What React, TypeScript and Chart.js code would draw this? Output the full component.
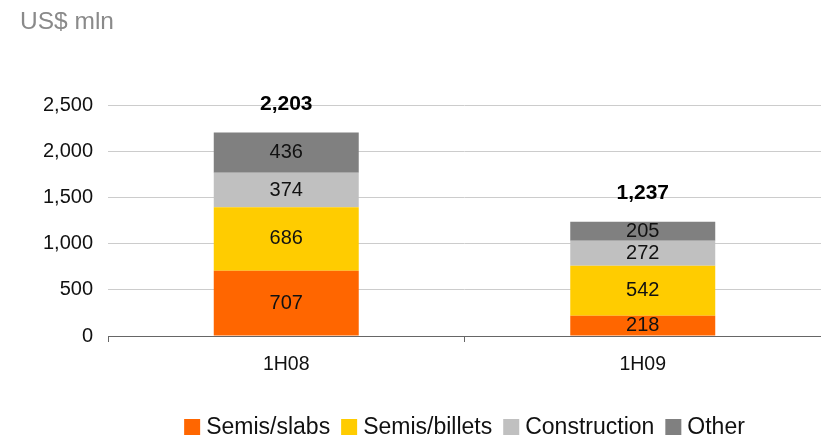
import React, { useEffect, useRef } from "react";
import { Chart, registerables } from "chart.js";

Chart.register(...registerables);

const categories = ["1H08", "1H09"];
const seriesNames = ["Semis/slabs", "Semis/billets", "Construction", "Other"];
const slabs = [707, 218];
const billets = [686, 542];
const construction = [374, 272];
const other = [436, 205];
const totals = [2203, 1237];
const yTicks = [0, 500, 1000, 1500, 2000, 2500];
const colors = ["#FF6600", "#FFCC00", "#C0C0C0", "#808080"];
const unitLabel = "US$ mln";

const FONT = '"Liberation Sans", Arial, sans-serif';
const fmt = (v: number) => v.toLocaleString("en-US");

const labelsPlugin = {
  id: "customLabels",
  afterDatasetsDraw(chart: any) {
    const ctx = chart.ctx;
    ctx.save();
    // in-bar values
    ctx.font = `20px ${FONT}`;
    ctx.fillStyle = "#111";
    ctx.textAlign = "center";
    ctx.textBaseline = "middle";
    chart.data.datasets.forEach((ds: any, di: number) => {
      const meta = chart.getDatasetMeta(di);
      meta.data.forEach((el: any, i: number) => {
        const yc = (el.y + el.base) / 2;
        ctx.fillText(fmt(ds.data[i]), el.x, yc);
      });
    });
    // totals
    const yScale = chart.scales.y;
    const lastMeta = chart.getDatasetMeta(chart.data.datasets.length - 1);
    ctx.font = `bold 21px ${FONT}`;
    ctx.fillStyle = "#000";
    totals.forEach((t, i) => {
      const x = lastMeta.data[i].x;
      const y = yScale.getPixelForValue(t) - 28;
      ctx.fillText(fmt(t), x, y);
    });
    // title
    ctx.font = `24.5px ${FONT}`;
    ctx.fillStyle = "#8a8a8a";
    ctx.textAlign = "left";
    ctx.textBaseline = "alphabetic";
    ctx.fillText(unitLabel, 20, 29);
    // legend
    ctx.font = `23px ${FONT}`;
    const box = 16;
    const gapText = 6;
    const gapItem = 11;
    const widths = seriesNames.map((n) => ctx.measureText(n).width);
    const total =
      widths.reduce((a, b) => a + b, 0) +
      seriesNames.length * (box + gapText) +
      (seriesNames.length - 1) * gapItem;
    const cx = (chart.chartArea.left + chart.chartArea.right) / 2;
    let x = cx - total / 2;
    const ly = 427;
    ctx.textBaseline = "middle";
    seriesNames.forEach((n, i) => {
      ctx.fillStyle = colors[i];
      ctx.fillRect(x, ly - box / 2, box, box);
      x += box + gapText;
      ctx.fillStyle = "#111";
      ctx.fillText(n, x, ly + 1);
      x += widths[i] + gapItem;
    });
    ctx.restore();
  },
};

export default function App() {
  const ref = useRef<HTMLCanvasElement>(null);
  useEffect(() => {
    if (!ref.current) return;
    const seriesData = [slabs, billets, construction, other];
    const chart = new Chart(ref.current, {
      type: "bar",
      data: {
        labels: categories,
        datasets: seriesNames.map((name, i) => ({
          label: name,
          data: seriesData[i],
          backgroundColor: colors[i],
          borderWidth: 0,
          barPercentage: 1,
          categoryPercentage: 0.4067,
        })),
      },
      options: {
        responsive: false,
        animation: false,
        layout: { padding: { top: 105, left: 0, right: 0, bottom: 0 } },
        plugins: {
          legend: { display: false },
          tooltip: { enabled: false },
          title: { display: false },
        },
        scales: {
          x: {
            stacked: true,
            grid: {
              offset: true,
              drawOnChartArea: false,
              drawTicks: true,
              tickLength: 6,
              color: "#666666",
            },
            border: { display: true, color: "#666666", width: 1 },
            ticks: {
              font: { family: FONT, size: 19.5 },
              color: "#111",
              padding: 11,
              maxRotation: 0,
            },
            afterFit: (s: any) => {
              s.height = 102;
            },
          },
          y: {
            stacked: true,
            min: 0,
            max: 2500,
            afterBuildTicks: (s: any) => {
              s.ticks = yTicks.map((v) => ({ value: v }));
            },
            grid: { color: "#cccccc", drawTicks: false, lineWidth: 1 },
            border: { display: false },
            ticks: {
              font: { family: FONT, size: 20 },
              color: "#111",
              padding: 15,
              callback: (v: any) => fmt(Number(v)),
            },
            afterFit: (s: any) => {
              s.width = 108;
            },
          },
        },
      },
      plugins: [labelsPlugin],
    });
    return () => chart.destroy();
  }, []);
  return (
    <div style={{ position: "fixed", left: 0, top: 0, width: 821, height: 438, background: "#fff" }}>
      <canvas ref={ref} width={821} height={438} />
    </div>
  );
}
